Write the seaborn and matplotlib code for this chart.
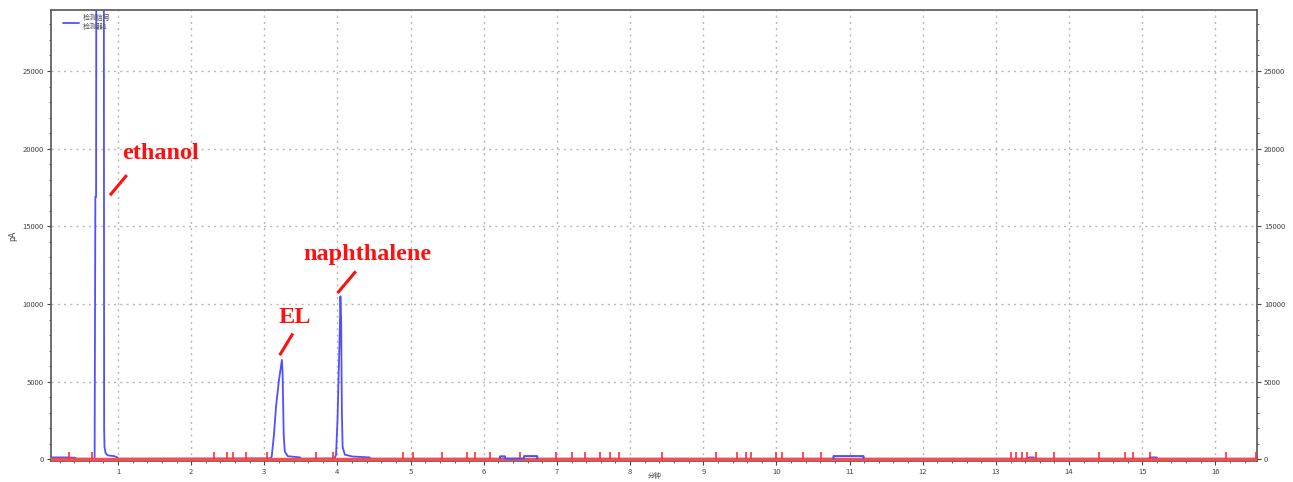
import numpy as np
import pandas as pd
import matplotlib
matplotlib.use("Agg")
import matplotlib.pyplot as plt
import seaborn as sns

# Chromatogram trace (retention time in minutes, detector signal in pA)
time_min = [0.08, 0.30, 0.40, 0.45, 0.680, 0.690, 0.695, 0.700, 0.705, 0.805, 0.810,
            0.815, 0.830, 0.860, 0.950, 0.990, 1.000,
            3.080, 3.100, 3.130, 3.160, 3.200, 3.240, 3.250, 3.265, 3.280, 3.320, 3.490, 3.500,
            3.960, 3.980, 4.000, 4.015, 4.030, 4.040, 4.050, 4.060, 4.070, 4.100, 4.200, 4.440, 4.450,
            6.220, 6.221, 6.290, 6.291, 6.550, 6.551, 6.730, 6.731,
            10.780, 10.781, 11.190, 11.191, 13.450, 13.451, 13.520, 13.521,
            15.100, 15.101, 15.200, 15.201, 16.570]
signal_pa = [120, 120, 100, 40, 40, 16900, 16900, 16900, 40000, 40000, 2000,
             800, 400, 250, 200, 120, 40,
             60, 150, 1500, 3400, 5100, 6400, 5500, 1500, 500, 200, 120, 40,
             60, 300, 2500, 5300, 8000, 10500, 9000, 3000, 800, 300, 180, 120, 40,
             40, 180, 180, 40, 40, 200, 200, 40,
             40, 200, 200, 40, 40, 120, 120, 40,
             40, 120, 120, 40, 40]

# Integration event markers along the baseline (minutes)
event_times = [0.33, 0.64, 2.31, 2.49, 2.57, 2.75, 3.03, 3.70, 3.94, 4.89, 5.03, 5.43,
               5.77, 5.88, 6.08, 6.50, 6.99, 7.21, 7.39, 7.59, 7.72, 7.85, 8.44, 9.18,
               9.46, 9.58, 9.65, 10.00, 10.08, 10.36, 10.61, 13.20, 13.28, 13.36, 13.43,
               13.55, 13.79, 14.41, 14.77, 14.87, 15.10, 16.15, 16.56]

# Peak labels: text, text position, leader line endpoints
peak_names = ["ethanol", "EL", "naphthalene"]
label_x = [1.05, 3.19, 3.54]
label_y = [19700, 9100, 13200]
leader_x0 = [0.89, 3.21, 4.00]
leader_y0 = [17000, 6700, 10700]
leader_x1 = [1.12, 3.39, 4.25]
leader_y1 = [18300, 8100, 12100]

y_ticks = [0, 5000, 10000, 15000, 20000, 25000]
x_ticks = list(range(1, 17))
legend_lines = ["检测信号", "检测器1"]

sns.set_style("white")
plt.rcParams["font.family"] = ["Noto Sans CJK SC", "DejaVu Sans"]

fig = plt.figure(figsize=(12.93, 4.82), dpi=100)
ax = fig.add_axes([0.0394, 0.0436, 0.9328, 0.9357])

trace = pd.DataFrame({"time": time_min, "signal": signal_pa})
sns.lineplot(data=trace, x="time", y="signal", ax=ax, color="#5050ff",
             linewidth=1.3, sort=False, estimator=None, zorder=3,
             label="\n".join(legend_lines))

# baseline and event markers
ax.axhline(0, color="#ff4a4a", linewidth=2.4, zorder=4)
ax.vlines(event_times, 0, 480, color="#ff3030", linewidth=1.2, zorder=4)
ax.plot(time_min[42:50], signal_pa[42:50], color="#5050ff", linewidth=1.3, zorder=5)
ax.plot(time_min[50:54], signal_pa[50:54], color="#5050ff", linewidth=1.3, zorder=5)

for name, tx, ty, x0, y0, x1, y1 in zip(peak_names, label_x, label_y,
                                         leader_x0, leader_y0, leader_x1, leader_y1):
    ax.plot([x0, x1], [y0, y1], color="#ff1010", linewidth=2.2, zorder=6,
            solid_capstyle="butt")
    ax.text(tx, ty, name, color="#ff1010", fontsize=17.5, fontweight="bold",
            family="Liberation Serif", va="center", ha="left", zorder=6)

ax.set_xlim(0.083, 16.57)
ax.set_ylim(-110, 28930)
ax.set_xticks(x_ticks)
ax.set_xticks(np.arange(0.2, 16.6, 0.2), minor=True)
ax.set_yticks(y_ticks)
ax.set_yticks(np.arange(0, 29000, 1000), minor=True)
ax.grid(True, which="major", color="#b8b8b8", linestyle=(0, (1.5, 3)), linewidth=1.0)
ax.set_axisbelow(True)

ax.tick_params(axis="both", which="major", direction="out", length=3, width=0.8,
               labelsize=5.5, colors="#444444", pad=2, left=True, bottom=True)
ax.tick_params(axis="both", which="minor", direction="out", length=1.5, width=0.6,
               colors="#444444", left=True, bottom=True)
ax.set_xlabel("")
fig.text(0.5065, 0.013, "分钟", fontsize=5, color="#444444", ha="center", va="center")
ax.set_ylabel("pA", fontsize=6, color="#444444", labelpad=4)
for sp in ax.spines.values():
    sp.set_color("#555555")
    sp.set_linewidth(1.2)

ax2 = ax.twinx()
ax2.set_ylim(ax.get_ylim())
ax2.set_yticks(y_ticks)
ax2.set_yticks(np.arange(0, 29000, 1000), minor=True)
ax2.tick_params(axis="y", which="major", direction="out", length=3, width=0.8,
                labelsize=5.5, colors="#444444", pad=2, right=True)
ax2.tick_params(axis="y", which="minor", direction="out", length=1.5, width=0.6,
                colors="#444444", right=True)
for sp in ax2.spines.values():
    sp.set_visible(False)

leg = ax.legend(loc="upper left", bbox_to_anchor=(0.005, 1.005), frameon=False,
                fontsize=5, handlelength=2.2, handletextpad=0.6, labelcolor="#555555")

fig.savefig("out.png", dpi=100)
